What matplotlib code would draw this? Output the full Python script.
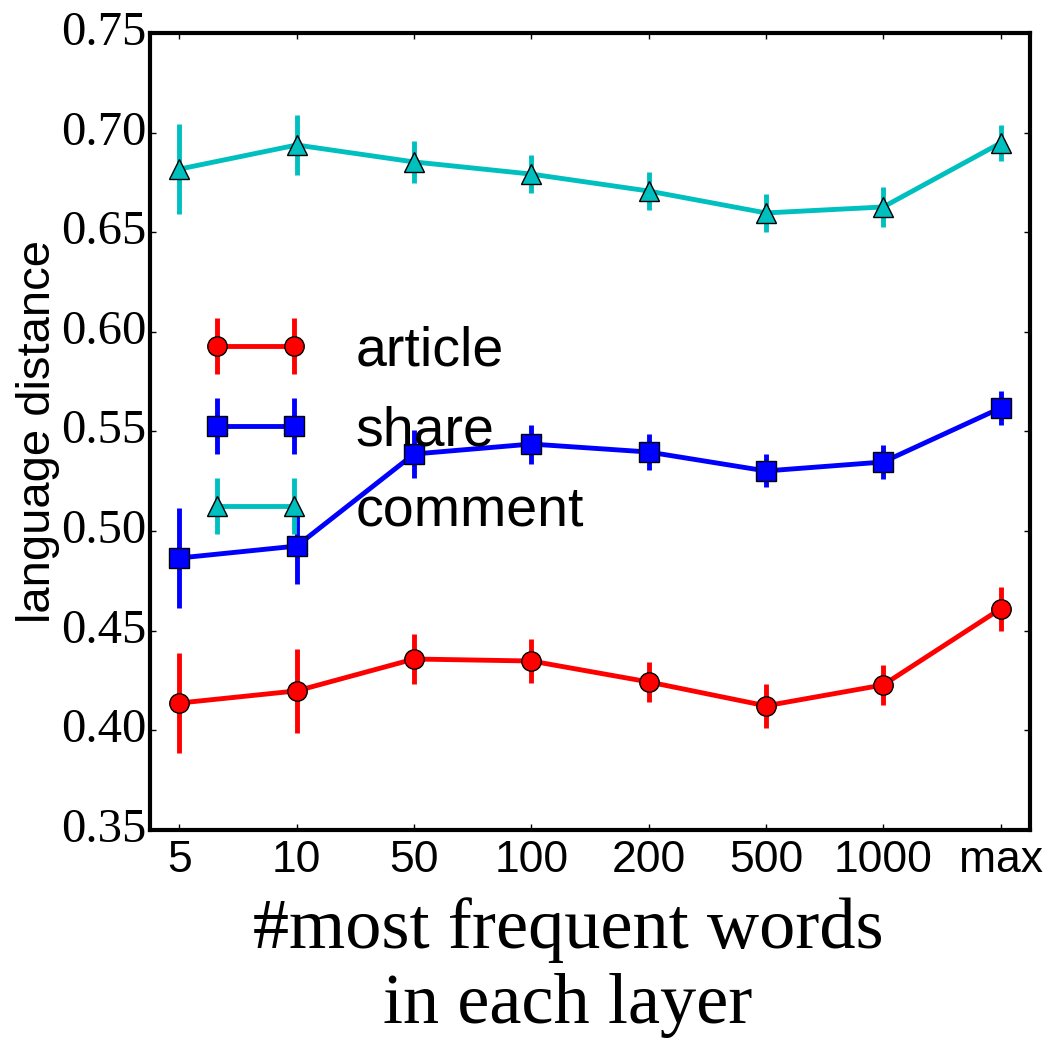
import matplotlib
matplotlib.use("Agg")
import matplotlib.pyplot as plt
import numpy as np

# x categories
labels = ['5', '10', '50', '100', '200', '500', '1000', 'max']

# mean language distance and error per layer
article = [0.4137, 0.4198, 0.4358, 0.4348, 0.4243, 0.4123, 0.4228, 0.4610]
article_err = [0.0253, 0.021, 0.0125, 0.011, 0.010, 0.011, 0.010, 0.011]
share = [0.4865, 0.4925, 0.5387, 0.5437, 0.5397, 0.5302, 0.5347, 0.5618]
share_err = [0.025, 0.019, 0.012, 0.0098, 0.009, 0.0083, 0.0085, 0.0083]
comment = [0.6817, 0.6938, 0.6853, 0.6792, 0.6707, 0.6597, 0.6627, 0.6948]
comment_err = [0.0225, 0.015, 0.0105, 0.0095, 0.0095, 0.0095, 0.010, 0.009]

plt.style.use('classic')

fig = plt.figure(figsize=(10.5, 10.39), dpi=100)
ax = fig.add_axes([0.1429, 0.2012, 0.838, 0.767])

x = np.arange(len(labels))
# same look for all three series, only colour and marker change
style = dict(linewidth=3.5, elinewidth=3.5, capsize=0, markersize=14,
             markeredgewidth=1, markeredgecolor='k')
ax.errorbar(x, article, yerr=article_err, color='r', marker='o', label='article', **style)
ax.errorbar(x, share, yerr=share_err, color='b', marker='s', label='share', **style)
ax.errorbar(x, comment, yerr=comment_err, color='c', marker='^', label='comment', **style)

ax.set_xlim(-0.25, 7.25)
ax.set_ylim(0.35, 0.75)
ax.set_xticks(x)
ax.set_xticklabels(labels, family='Liberation Sans', fontsize=32)
ax.set_yticks(np.arange(0.35, 0.751, 0.05))
ax.set_yticklabels(['%.2f' % v for v in np.arange(0.35, 0.751, 0.05)],
                   family='Liberation Serif', fontsize=35)
ax.tick_params(direction='in', length=4, width=1)
ax.tick_params(axis='x', pad=7)
ax.tick_params(axis='y', pad=2.5)
for sp in ax.spines.values():
    sp.set_linewidth(3)

ax.set_ylabel('language distance', family='Liberation Sans', fontsize=34)
ax.yaxis.set_label_coords(-0.102, 0.5)
ax.set_xlabel('#most frequent words\nin each layer', family='Liberation Serif',
              fontsize=52, linespacing=1.2)
ax.xaxis.set_label_coords(0.475, -0.085)
ax.xaxis.label.set_va('top')

leg = ax.legend(loc='center left', bbox_to_anchor=(0.0, 0.5), frameon=False,
                numpoints=2, labelspacing=0.5,
                prop={'family': 'Liberation Sans', 'size': 40})

fig.savefig('out.png', dpi=100)
